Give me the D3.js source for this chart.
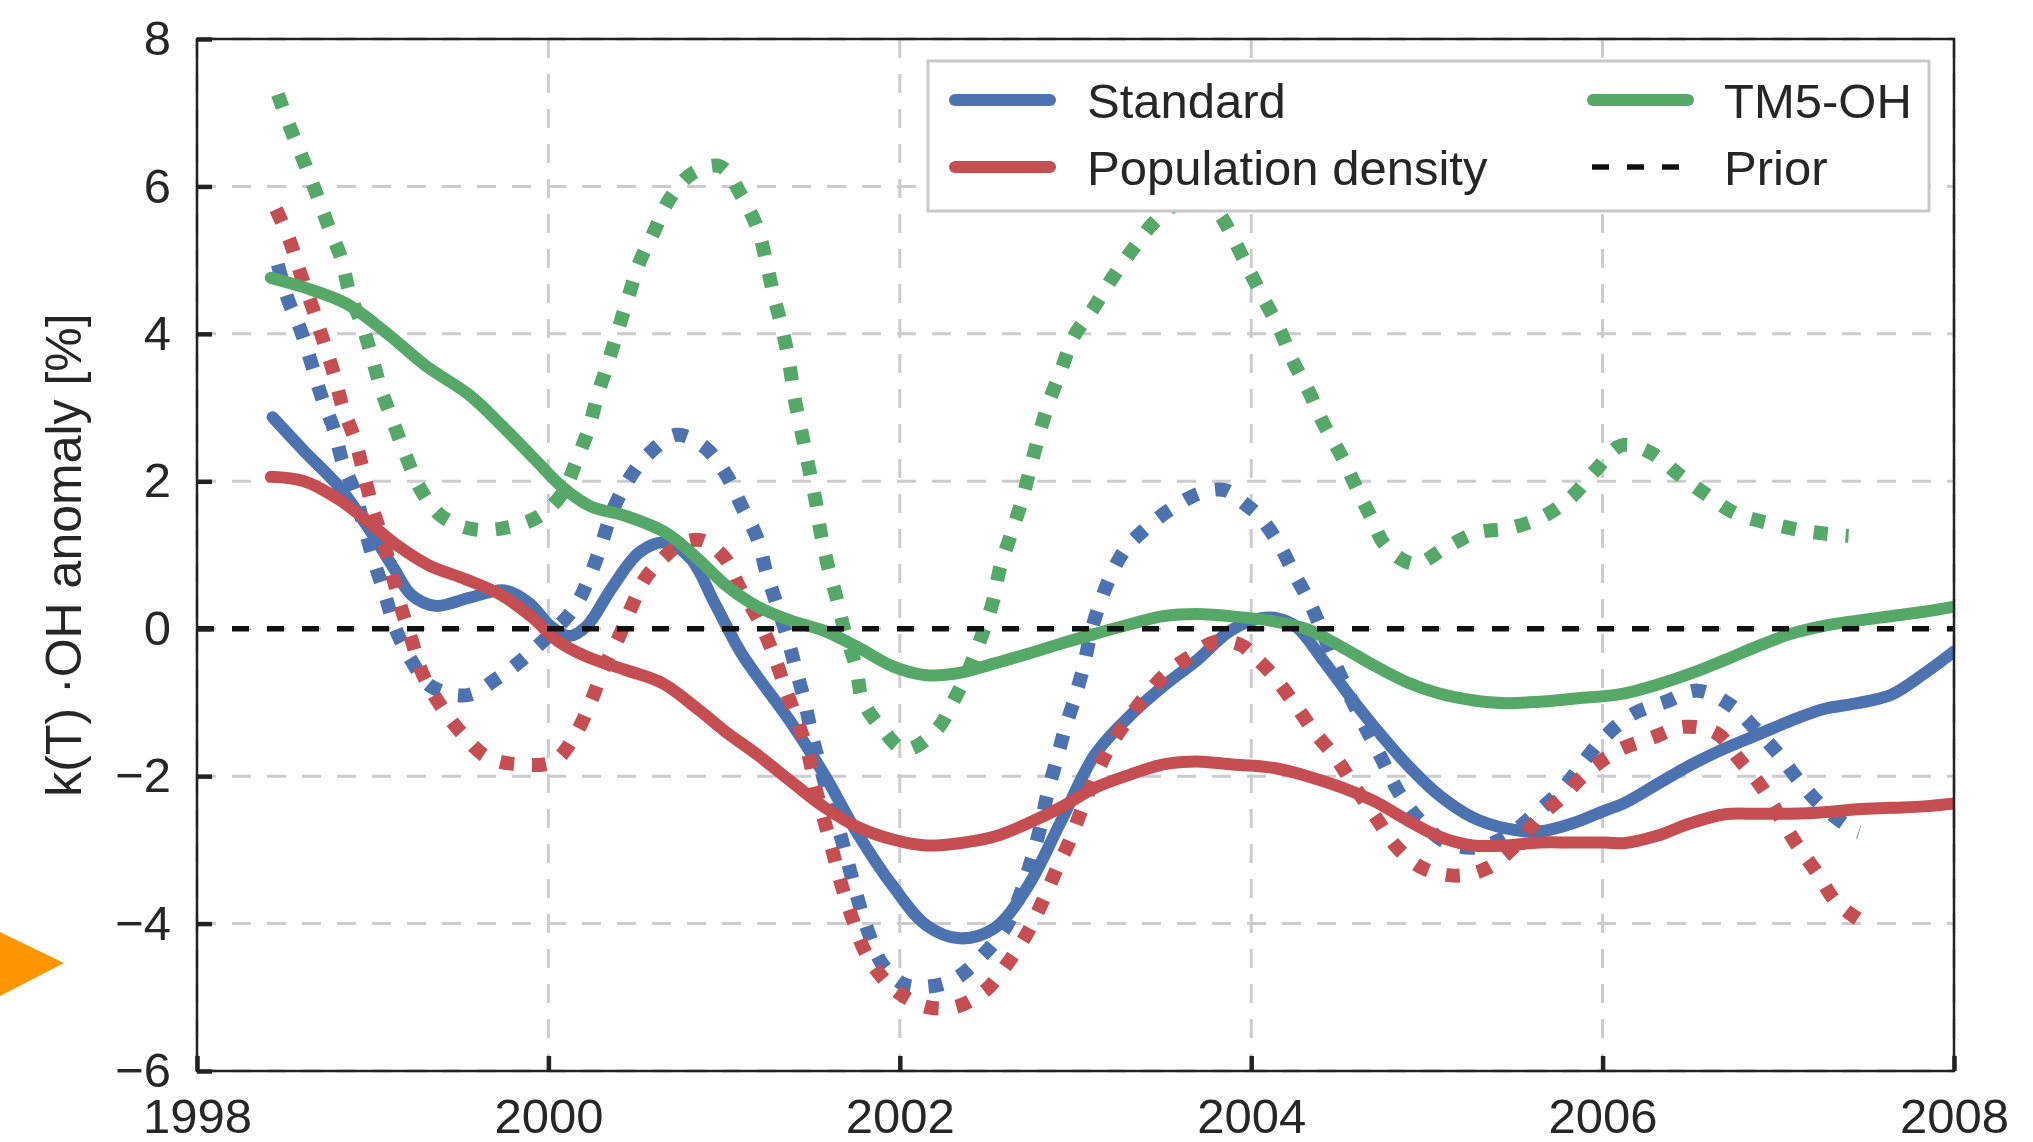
<!DOCTYPE html>
<html>
<head>
<meta charset="utf-8">
<script src="https://cdn.jsdelivr.net/npm/d3@7/dist/d3.min.js"></script>
<style>
  html, body { margin: 0; padding: 0; background: #ffffff; }
  svg { display: block; }
  text { font-family: "Liberation Sans", Arial, sans-serif; fill: #262626; }
</style>
</head>
<body>
<svg id="chart" width="2033" height="1142"></svg>
<script>
// ---- data: [decimal year, k(T)·OH anomaly in %] ----
const standardSolid = [
  [1998.43, 2.87], [1998.61, 2.41], [1998.81, 1.92], [1998.98, 1.35], [1999.12, 0.82],
  [1999.22, 0.46], [1999.36, 0.31], [1999.55, 0.42], [1999.75, 0.52], [1999.89, 0.35],
  [2000.01, 0.04], [2000.12, -0.10], [2000.22, 0.04], [2000.36, 0.55], [2000.52, 1.04],
  [2000.67, 1.17], [2000.81, 0.95], [2000.95, 0.33], [2001.09, -0.30], [2001.19, -0.65],
  [2001.38, -1.27], [2001.57, -1.98], [2001.76, -2.78], [2001.96, -3.49], [2002.15, -4.02],
  [2002.34, -4.20], [2002.54, -4.06], [2002.73, -3.49], [2002.92, -2.60], [2003.11, -1.71],
  [2003.31, -1.18], [2003.50, -0.78], [2003.69, -0.43], [2003.88, -0.03], [2004.05, 0.14],
  [2004.15, 0.14], [2004.26, 0.02], [2004.41, -0.43], [2004.56, -0.91], [2004.70, -1.33],
  [2004.89, -1.85], [2005.07, -2.26], [2005.26, -2.56], [2005.45, -2.71], [2005.64, -2.75],
  [2005.83, -2.64], [2006.02, -2.46], [2006.12, -2.37], [2006.31, -2.11], [2006.50, -1.85],
  [2006.69, -1.63], [2006.88, -1.44], [2007.07, -1.25], [2007.26, -1.09], [2007.45, -1.01],
  [2007.64, -0.90], [2007.83, -0.61], [2008.00, -0.31]
];
const populationSolid = [
  [1998.42, 2.06], [1998.61, 2.00], [1998.81, 1.75], [1998.98, 1.44], [1999.14, 1.13],
  [1999.32, 0.86], [1999.53, 0.67], [1999.73, 0.46], [1999.91, 0.15], [2000.05, -0.16],
  [2000.22, -0.38], [2000.44, -0.56], [2000.65, -0.74], [2000.85, -1.09], [2001.01, -1.40],
  [2001.19, -1.71], [2001.38, -2.07], [2001.57, -2.42], [2001.76, -2.69], [2001.96, -2.86],
  [2002.15, -2.94], [2002.34, -2.91], [2002.54, -2.82], [2002.73, -2.64], [2002.92, -2.42],
  [2003.11, -2.16], [2003.31, -1.98], [2003.50, -1.84], [2003.69, -1.80], [2003.88, -1.84],
  [2004.13, -1.89], [2004.32, -2.00], [2004.51, -2.15], [2004.70, -2.34], [2004.89, -2.60],
  [2005.07, -2.82], [2005.26, -2.94], [2005.45, -2.94], [2005.64, -2.90], [2005.83, -2.90],
  [2006.02, -2.90], [2006.12, -2.91], [2006.31, -2.81], [2006.50, -2.64], [2006.69, -2.52],
  [2006.88, -2.51], [2007.07, -2.51], [2007.26, -2.49], [2007.45, -2.45], [2007.64, -2.43],
  [2007.83, -2.41], [2008.00, -2.37]
];
const tm5Solid = [
  [1998.42, 4.76], [1998.61, 4.63], [1998.85, 4.41], [1999.08, 4.01], [1999.30, 3.57],
  [1999.55, 3.17], [1999.75, 2.72], [1999.93, 2.28], [2000.08, 1.92], [2000.24, 1.66],
  [2000.44, 1.53], [2000.67, 1.30], [2000.85, 0.95], [2001.01, 0.59], [2001.19, 0.30],
  [2001.38, 0.11], [2001.57, -0.03], [2001.76, -0.25], [2001.96, -0.51], [2002.15, -0.63],
  [2002.34, -0.60], [2002.54, -0.47], [2002.73, -0.34], [2002.92, -0.20], [2003.11, -0.07],
  [2003.31, 0.06], [2003.50, 0.17], [2003.69, 0.20], [2003.88, 0.17], [2004.13, 0.10],
  [2004.32, -0.01], [2004.51, -0.24], [2004.70, -0.50], [2004.89, -0.73], [2005.07, -0.88],
  [2005.26, -0.97], [2005.45, -1.01], [2005.64, -0.99], [2005.83, -0.95], [2006.12, -0.88],
  [2006.31, -0.76], [2006.50, -0.61], [2006.69, -0.43], [2006.88, -0.24], [2007.07, -0.07],
  [2007.26, 0.04], [2007.45, 0.11], [2007.64, 0.17], [2007.83, 0.23], [2008.00, 0.30]
];
const standardDotted = [
  [1998.46, 4.94], [1998.52, 4.45], [1998.59, 4.05], [1998.65, 3.61], [1998.71, 3.14],
  [1998.78, 2.70], [1998.83, 2.25], [1998.90, 1.84], [1998.95, 1.39], [1999.01, 0.90],
  [1999.07, 0.46], [1999.13, 0.00], [1999.22, -0.43], [1999.33, -0.78], [1999.54, -0.90],
  [1999.71, -0.67], [1999.86, -0.40], [2000.14, 0.26], [2000.23, 0.68], [2000.30, 1.13],
  [2000.36, 1.57], [2000.45, 2.00], [2000.57, 2.37], [2000.73, 2.63], [2000.89, 2.46],
  [2001.01, 2.10], [2001.10, 1.66], [2001.19, 1.22], [2001.24, 0.77], [2001.30, 0.33],
  [2001.36, -0.12], [2001.41, -0.56], [2001.46, -1.00], [2001.50, -1.45], [2001.55, -1.89],
  [2001.60, -2.33], [2001.66, -2.78], [2001.71, -3.22], [2001.76, -3.66], [2001.82, -4.11],
  [2001.90, -4.55], [2002.02, -4.82], [2002.13, -4.86], [2002.30, -4.77], [2002.46, -4.46],
  [2002.61, -4.02], [2002.69, -3.57], [2002.75, -3.13], [2002.80, -2.69], [2002.84, -2.24],
  [2002.89, -1.80], [2002.94, -1.36], [2003.00, -0.91], [2003.05, -0.47], [2003.09, -0.03],
  [2003.15, 0.42], [2003.21, 0.77], [2003.29, 1.10], [2003.40, 1.36], [2003.54, 1.62],
  [2003.71, 1.84], [2003.85, 1.88], [2003.96, 1.70], [2004.04, 1.54], [2004.15, 1.18],
  [2004.24, 0.77], [2004.34, 0.32], [2004.49, -0.54], [2004.62, -1.20], [2004.74, -1.75],
  [2004.84, -2.22], [2004.96, -2.60], [2005.11, -2.90], [2005.28, -2.97], [2005.45, -2.82],
  [2005.61, -2.52], [2005.78, -2.15], [2005.89, -1.81], [2006.02, -1.45], [2006.17, -1.16],
  [2006.36, -0.99], [2006.54, -0.84], [2006.73, -1.04], [2006.87, -1.36], [2007.00, -1.70],
  [2007.12, -2.07], [2007.25, -2.41], [2007.43, -2.73], [2007.46, -2.76]
];
const populationDotted = [
  [1998.45, 5.69], [1998.53, 5.25], [1998.59, 4.81], [1998.66, 4.34], [1998.72, 3.90],
  [1998.78, 3.45], [1998.83, 3.00], [1998.90, 2.56], [1998.95, 2.10], [1999.00, 1.63],
  [1999.06, 1.19], [1999.11, 0.75], [1999.16, 0.30], [1999.22, -0.14], [1999.28, -0.59],
  [1999.38, -1.02], [1999.50, -1.40], [1999.65, -1.74], [1999.83, -1.84], [2000.03, -1.80],
  [2000.15, -1.45], [2000.24, -1.00], [2000.32, -0.51], [2000.40, -0.12], [2000.47, 0.28],
  [2000.55, 0.68], [2000.65, 0.95], [2000.75, 1.15], [2000.87, 1.20], [2001.00, 0.97],
  [2001.09, 0.55], [2001.19, 0.15], [2001.28, -0.34], [2001.35, -0.82], [2001.42, -1.27],
  [2001.48, -1.71], [2001.52, -2.16], [2001.57, -2.60], [2001.62, -3.04], [2001.67, -3.49],
  [2001.73, -3.93], [2001.80, -4.37], [2001.90, -4.73], [2002.00, -4.95], [2002.15, -5.13],
  [2002.32, -5.13], [2002.49, -4.90], [2002.61, -4.55], [2002.73, -4.11], [2002.82, -3.66],
  [2002.90, -3.22], [2002.97, -2.86], [2003.04, -2.42], [2003.11, -2.02], [2003.19, -1.62],
  [2003.30, -1.22], [2003.40, -0.91], [2003.52, -0.60], [2003.65, -0.38], [2003.79, -0.18],
  [2003.94, -0.22], [2004.02, -0.38], [2004.13, -0.65], [2004.25, -1.03], [2004.36, -1.40],
  [2004.49, -1.78], [2004.59, -2.15], [2004.71, -2.56], [2004.82, -2.94], [2004.97, -3.24],
  [2005.17, -3.35], [2005.35, -3.24], [2005.50, -2.95], [2005.64, -2.56], [2005.78, -2.26],
  [2005.92, -1.93], [2006.09, -1.65], [2006.28, -1.48], [2006.47, -1.33], [2006.65, -1.42],
  [2006.78, -1.78], [2006.90, -2.13], [2007.10, -2.91], [2007.22, -3.31], [2007.33, -3.71],
  [2007.46, -3.95]
];
const tm5Dotted = [
  [1998.46, 7.25], [1998.53, 6.80], [1998.61, 6.33], [1998.68, 5.90], [1998.75, 5.45],
  [1998.82, 5.03], [1998.87, 4.54], [1998.94, 4.12], [1999.00, 3.65], [1999.05, 3.23],
  [1999.12, 2.78], [1999.19, 2.34], [1999.27, 1.90], [1999.39, 1.53], [1999.57, 1.35],
  [1999.76, 1.37], [1999.95, 1.53], [2000.08, 1.84], [2000.16, 2.28], [2000.23, 2.72],
  [2000.28, 3.17], [2000.34, 3.61], [2000.40, 4.08], [2000.46, 4.54], [2000.52, 4.98],
  [2000.60, 5.38], [2000.69, 5.83], [2000.82, 6.18], [2000.98, 6.27], [2001.10, 5.87],
  [2001.19, 5.43], [2001.24, 4.98], [2001.28, 4.54], [2001.33, 4.08], [2001.37, 3.61],
  [2001.40, 3.14], [2001.44, 2.68], [2001.48, 2.21], [2001.52, 1.75], [2001.55, 1.30],
  [2001.59, 0.86], [2001.64, 0.42], [2001.69, -0.07], [2001.75, -0.51], [2001.79, -0.98],
  [2001.90, -1.36], [2002.03, -1.64], [2002.21, -1.37], [2002.31, -0.96], [2002.40, -0.51],
  [2002.47, -0.07], [2002.53, 0.37], [2002.57, 0.82], [2002.63, 1.26], [2002.69, 1.70],
  [2002.74, 2.15], [2002.79, 2.61], [2002.85, 3.08], [2002.92, 3.52], [2002.99, 3.96],
  [2003.10, 4.34], [2003.21, 4.76], [2003.33, 5.16], [2003.45, 5.52], [2003.60, 5.80],
  [2003.72, 5.85], [2003.82, 5.62], [2003.88, 5.38], [2003.98, 4.90], [2004.07, 4.48],
  [2004.16, 4.07], [2004.24, 3.62], [2004.33, 3.21], [2004.41, 2.79], [2004.51, 2.36],
  [2004.59, 1.96], [2004.68, 1.52], [2004.77, 1.11], [2004.93, 0.88], [2005.10, 1.09],
  [2005.28, 1.30], [2005.48, 1.37], [2005.66, 1.52], [2005.82, 1.78], [2005.96, 2.15],
  [2006.11, 2.49], [2006.28, 2.38], [2006.43, 2.10], [2006.59, 1.82], [2006.76, 1.56],
  [2006.95, 1.43], [2007.14, 1.33], [2007.34, 1.27], [2007.40, 1.26]
];

const xTicks = [1998, 2000, 2002, 2004, 2006, 2008];
const yTicks = [-6, -4, -2, 0, 2, 4, 6, 8];
const priorLevel = 0;
const legendLabels = ["Standard", "Population density", "TM5-OH", "Prior"];
const yAxisTitle = "k(T) \u00B7OH anomaly [%]";

// ---- layout ----
const svg = d3.select("#chart");
const margin = { left: 197, right: 2033 - 1954, top: 39, bottom: 1142 - 1071 };
const W = 2033, H = 1142;
const plotW = W - margin.left - margin.right;
const plotH = H - margin.top - margin.bottom;
const FONT = 49;

const colors = { blue: "#4C72B0", red: "#C44E52", green: "#55A868" };

const x = d3.scaleLinear().domain([1998, 2008]).range([0, plotW]);
const y = d3.scaleLinear().domain([-6, 8]).range([plotH, 0]);

const g = svg.append("g").attr("transform", `translate(${margin.left},${margin.top})`);

// gridlines
const grid = g.append("g").attr("class", "grid");
grid.selectAll("line.h").data(yTicks).join("line")
  .attr("x1", 0).attr("x2", plotW)
  .attr("y1", d => y(d)).attr("y2", d => y(d))
  .attr("stroke", "#cccccc").attr("stroke-width", 3)
  .attr("stroke-dasharray", "19,16");
grid.selectAll("line.v").data(xTicks).join("line")
  .attr("y1", 0).attr("y2", plotH)
  .attr("x1", d => x(d)).attr("x2", d => x(d))
  .attr("stroke", "#cccccc").attr("stroke-width", 3)
  .attr("stroke-dasharray", "19,16");

// series lines
const line = d3.line()
  .x(d => x(d[0])).y(d => y(d[1]))
  .curve(d3.curveCatmullRom.alpha(0.5));

svg.append("defs").append("clipPath").attr("id", "plotClip")
  .append("rect").attr("x", 0).attr("y", 0).attr("width", plotW).attr("height", plotH);

const lines = g.append("g").attr("clip-path", "url(#plotClip)");
const SOLID_W = 12, DOT_W = 14;
const series = [
  { data: standardSolid, color: colors.blue, dotted: false },
  { data: standardDotted, color: colors.blue, dotted: true },
  { data: populationSolid, color: colors.red, dotted: false },
  { data: populationDotted, color: colors.red, dotted: true },
  { data: tm5Solid, color: colors.green, dotted: false },
  { data: tm5Dotted, color: colors.green, dotted: true }
];
series.forEach(s => {
  lines.append("path")
    .datum(s.data)
    .attr("d", line)
    .attr("fill", "none")
    .attr("stroke", s.color)
    .attr("stroke-width", s.dotted ? DOT_W : SOLID_W)
    .attr("stroke-linecap", s.dotted ? "butt" : "round")
    .attr("stroke-linejoin", "round")
    .attr("stroke-dasharray", s.dotted ? `${DOT_W},18` : null);
});

// prior reference line
g.append("line")
  .attr("x1", 0).attr("x2", plotW)
  .attr("y1", y(priorLevel)).attr("y2", y(priorLevel))
  .attr("stroke", "#111").attr("stroke-width", 5.5)
  .attr("stroke-dasharray", "17,18");

// axes with inward ticks
const yAxis = d3.axisLeft(y).tickValues(yTicks).tickSizeInner(-15).tickSizeOuter(0).tickPadding(26);
const xAxis = d3.axisBottom(x).tickValues(xTicks).tickFormat(d3.format("d")).tickSizeInner(-15).tickSizeOuter(0).tickPadding(27);

const gy = g.append("g").call(yAxis);
const gx = g.append("g").attr("transform", `translate(0,${plotH})`).call(xAxis);
[gx, gy].forEach(a => {
  a.select(".domain").remove();
  a.selectAll(".tick line").attr("stroke", "#222").attr("stroke-width", 4.5);
  a.selectAll(".tick text").attr("font-size", FONT).attr("fill", "#262626")
    .style("font-family", '"Liberation Sans", Arial, sans-serif');
});

// frame
g.append("rect")
  .attr("x", 0).attr("y", 0).attr("width", plotW).attr("height", plotH)
  .attr("fill", "none").attr("stroke", "#222").attr("stroke-width", 2.5);

// y-axis title
svg.append("text")
  .attr("transform", `translate(81,${margin.top + plotH / 2}) rotate(-90)`)
  .attr("text-anchor", "middle")
  .attr("font-size", FONT + 1)
  .text(yAxisTitle);

// legend
const lg = svg.append("g");
lg.append("rect")
  .attr("x", 928).attr("y", 61).attr("width", 1001).attr("height", 150)
  .attr("fill", "#ffffff").attr("stroke", "#c8c8c8").attr("stroke-width", 3);

const legendItems = [
  { label: legendLabels[0], color: colors.blue, dash: null, lx: 955, ty: 100 },
  { label: legendLabels[1], color: colors.red, dash: null, lx: 955, ty: 167 },
  { label: legendLabels[2], color: colors.green, dash: null, lx: 1593, ty: 100 },
  { label: legendLabels[3], color: "#111", dash: "17,18", lx: 1592, ty: 167 }
];
legendItems.forEach(it => {
  const dashed = it.dash !== null;
  lg.append("line")
    .attr("x1", it.lx).attr("x2", dashed ? it.lx + 88 : it.lx + 95)
    .attr("y1", it.ty).attr("y2", it.ty)
    .attr("stroke", it.color)
    .attr("stroke-width", dashed ? 5.5 : SOLID_W)
    .attr("stroke-linecap", dashed ? "butt" : "round")
    .attr("stroke-dasharray", it.dash);
  lg.append("text")
    .attr("x", it.lx < 1200 ? 1087 : 1724)
    .attr("y", it.ty + 18)
    .attr("font-size", FONT)
    .text(it.label);
});

// orange pointer marker at the left edge
svg.append("path")
  .attr("d", d3.line()([[0, 932], [64, 963], [0, 996]]) + "Z")
  .attr("fill", "#FF9500");
</script>
</body>
</html>
